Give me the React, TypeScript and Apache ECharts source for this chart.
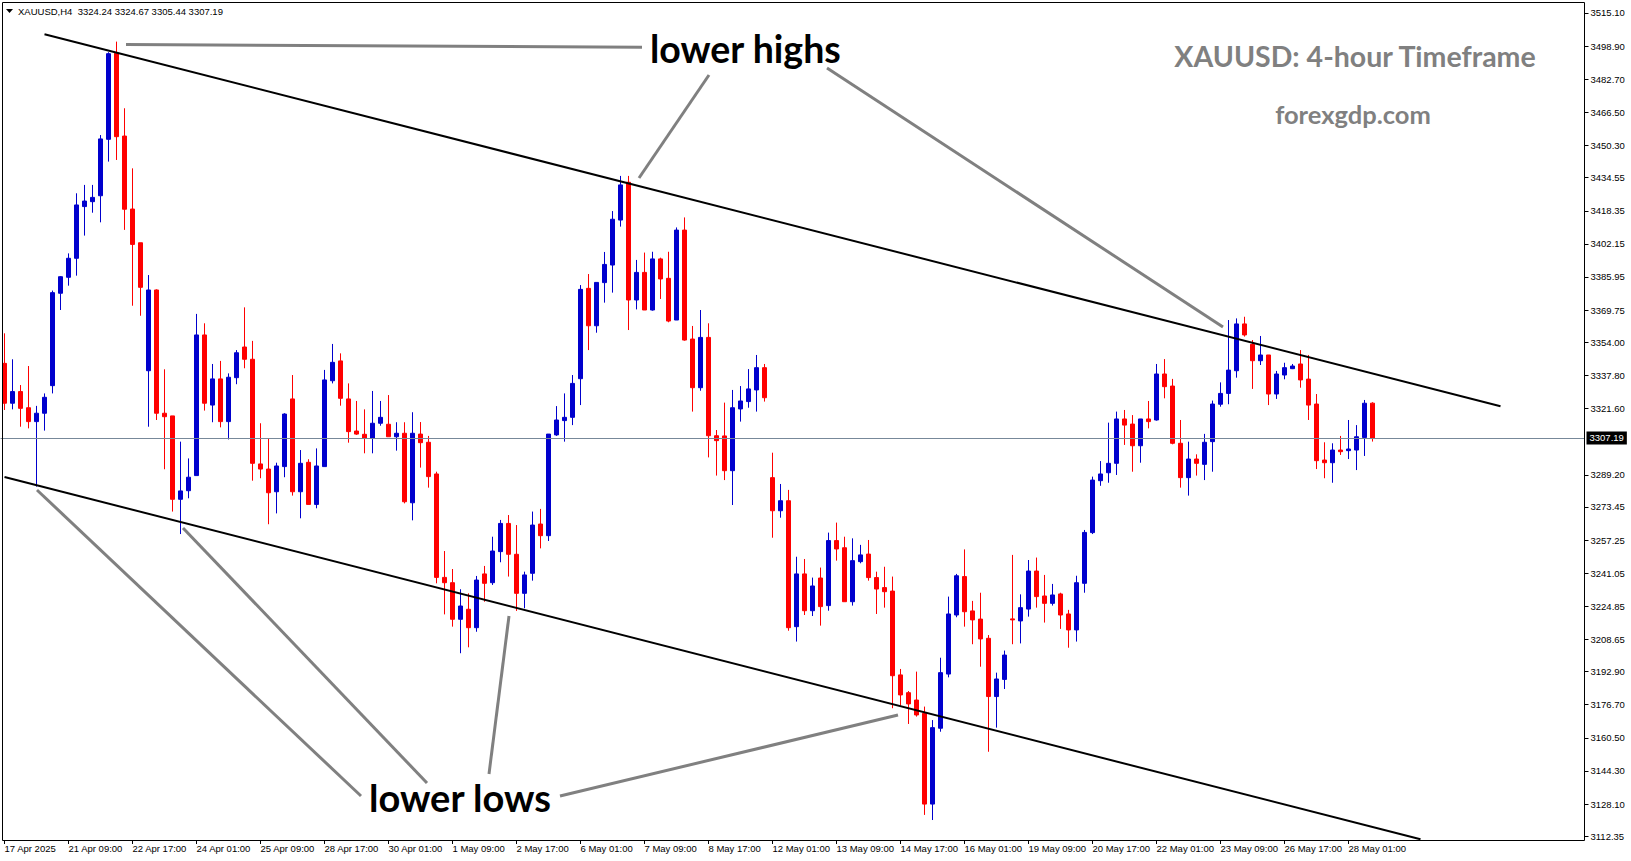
import React, { useEffect, useRef } from "react";
import * as echarts from "echarts";

// ---- calendar (4-hour sessions, broker time) ----
const tradingDays = [
  "17 Apr", "21 Apr", "22 Apr", "23 Apr", "24 Apr", "25 Apr",
  "28 Apr", "29 Apr", "30 Apr", "1 May", "2 May",
  "5 May", "6 May", "7 May", "8 May", "9 May",
  "12 May", "13 May", "14 May", "15 May", "16 May",
  "19 May", "20 May", "21 May", "22 May", "23 May",
  "26 May", "27 May", "28 May",
];
const sessions = ["01:00", "05:00", "09:00", "13:00", "17:00", "21:00"];

// ---- OHLC values ----
const opens = [
  3343.7, 3324.2, 3329.9, 3322.0, 3315.2, 3319.3, 3332.8, 3378.0, 3385.8, 3395.1,
  3420.4, 3422.8, 3425.7, 3453.3, 3495.4, 3454.9, 3419.2, 3402.7, 3340.1, 3379.6,
  3319.3, 3318.0, 3277.2, 3281.4, 3288.8, 3357.6, 3323.3, 3336.1, 3315.2, 3336.7,
  3351.7, 3345.7, 3294.5, 3292.0, 3280.9, 3293.2, 3326.3, 3280.9, 3295.3, 3274.7,
  3293.2, 3335.2, 3344.9, 3326.3, 3310.6, 3309.0, 3307.0, 3314.4, 3313.9, 3307.8,
  3309.5, 3275.5, 3309.1, 3305.1, 3289.6, 3239.0, 3236.4, 3218.5, 3223.4, 3214.4,
  3240.7, 3236.4, 3251.6, 3265.4, 3250.3, 3231.2, 3241.0, 3265.1, 3259.4, 3308.7,
  3315.7, 3317.3, 3336.2, 3380.4, 3362.1, 3383.2, 3391.8, 3413.8, 3432.3, 3374.7,
  3388.2, 3369.8, 3394.8, 3385.3, 3364.9, 3408.9, 3355.6, 3331.8, 3356.4, 3308.3,
  3308.2, 3291.2, 3321.4, 3325.0, 3330.7, 3341.6, 3287.8, 3271.6, 3276.5, 3214.9,
  3240.7, 3222.7, 3238.7, 3225.2, 3257.0, 3253.5, 3227.1, 3246.7, 3250.4, 3238.9,
  3234.0, 3232.3, 3191.3, 3182.6, 3179.0, 3172.5, 3128.1, 3165.2, 3191.7, 3220.6,
  3239.4, 3222.6, 3218.6, 3209.2, 3180.7, 3189.1, 3218.7, 3217.7, 3223.5, 3242.1,
  3229.9, 3226.3, 3230.9, 3221.1, 3213.3, 3236.1, 3260.9, 3286.3, 3290.2, 3294.8,
  3316.5, 3314.0, 3303.4, 3316.5, 3316.0, 3338.5, 3332.6, 3304.6, 3287.8, 3296.9,
  3294.3, 3305.4, 3323.7, 3329.0, 3340.1, 3363.0, 3353.0, 3345.0, 3347.8, 3328.7,
  3338.0, 3341.1, 3343.4, 3336.0, 3323.8, 3296.4, 3295.1, 3301.3, 3301.0, 3301.3,
  3307.4, 3324.24,
];
const highs = [
  3358.4, 3345.7, 3333.1, 3342.4, 3322.9, 3329.0, 3379.3, 3386.4, 3397.5, 3426.9,
  3431.0, 3431.0, 3455.4, 3495.9, 3501.1, 3468.5, 3439.1, 3402.7, 3386.9, 3379.9,
  3340.8, 3318.0, 3305.4, 3297.2, 3367.9, 3363.3, 3343.4, 3344.9, 3338.8, 3350.2,
  3371.1, 3354.7, 3314.4, 3306.7, 3295.1, 3319.3, 3338.0, 3301.3, 3296.8, 3302.1,
  3340.5, 3353.2, 3348.6, 3333.9, 3325.3, 3321.2, 3330.2, 3325.3, 3328.2, 3314.9,
  3314.9, 3319.8, 3315.0, 3308.2, 3290.7, 3251.9, 3243.1, 3233.2, 3231.2, 3239.7,
  3244.6, 3258.9, 3267.1, 3269.5, 3264.6, 3241.8, 3271.2, 3272.5, 3309.1, 3322.8,
  3329.0, 3338.0, 3382.0, 3387.4, 3383.3, 3398.2, 3418.2, 3435.4, 3435.4, 3394.3,
  3397.9, 3398.3, 3395.4, 3398.3, 3410.2, 3415.1, 3362.0, 3369.8, 3363.3, 3311.1,
  3324.5, 3330.7, 3332.6, 3340.9, 3347.8, 3343.4, 3300.0, 3284.7, 3281.8, 3249.1,
  3248.0, 3238.9, 3243.8, 3260.9, 3265.8, 3258.9, 3258.1, 3254.9, 3257.3, 3241.8,
  3244.2, 3239.4, 3194.2, 3183.4, 3192.9, 3175.8, 3169.2, 3199.7, 3229.6, 3240.7,
  3252.7, 3227.5, 3231.5, 3210.8, 3192.4, 3203.2, 3250.0, 3230.7, 3247.5, 3248.7,
  3240.2, 3235.8, 3231.5, 3223.1, 3239.8, 3262.2, 3288.3, 3295.9, 3314.7, 3320.1,
  3320.9, 3318.4, 3316.5, 3325.3, 3343.4, 3345.8, 3336.1, 3316.0, 3305.4, 3299.2,
  3309.2, 3325.5, 3334.4, 3364.9, 3365.7, 3366.5, 3355.1, 3357.1, 3347.8, 3340.0,
  3344.0, 3343.4, 3350.2, 3347.8, 3328.7, 3305.1, 3304.6, 3308.2, 3316.0, 3313.5,
  3325.8, 3324.67,
];
const lows = [
  3320.9, 3321.2, 3312.7, 3311.9, 3283.4, 3310.8, 3329.0, 3369.8, 3381.7, 3386.6,
  3406.2, 3417.4, 3412.7, 3442.4, 3443.2, 3409.0, 3371.9, 3367.0, 3312.7, 3316.0,
  3291.9, 3271.2, 3260.2, 3277.7, 3288.8, 3320.6, 3314.9, 3312.4, 3306.5, 3333.5,
  3341.3, 3286.3, 3287.5, 3265.0, 3270.3, 3288.0, 3279.0, 3267.9, 3274.7, 3272.8,
  3293.2, 3333.9, 3323.0, 3304.9, 3308.7, 3299.7, 3299.7, 3313.2, 3307.8, 3301.0,
  3275.2, 3266.9, 3292.7, 3282.9, 3236.1, 3220.9, 3214.9, 3201.9, 3204.8, 3212.4,
  3227.1, 3235.3, 3246.4, 3239.4, 3222.6, 3223.9, 3237.4, 3253.2, 3256.8, 3308.2,
  3305.4, 3313.5, 3323.3, 3350.2, 3358.7, 3373.4, 3378.3, 3410.6, 3360.0, 3370.1,
  3369.8, 3369.5, 3375.2, 3363.8, 3364.9, 3354.8, 3320.1, 3330.3, 3297.7, 3288.8,
  3286.6, 3274.4, 3315.2, 3322.0, 3320.1, 3325.0, 3258.4, 3268.2, 3212.9, 3207.6,
  3220.6, 3220.1, 3215.4, 3222.7, 3247.2, 3227.1, 3225.2, 3245.9, 3237.4, 3221.1,
  3224.2, 3175.0, 3176.3, 3167.3, 3170.9, 3122.8, 3120.3, 3163.5, 3190.1, 3219.5,
  3214.9, 3206.3, 3195.3, 3153.7, 3165.5, 3184.4, 3206.3, 3206.7, 3219.8, 3224.2,
  3216.9, 3225.2, 3213.8, 3204.6, 3207.6, 3231.5, 3260.2, 3283.8, 3285.3, 3289.1,
  3303.8, 3290.7, 3295.1, 3311.9, 3315.7, 3326.6, 3304.1, 3282.9, 3279.0, 3288.8,
  3286.6, 3290.7, 3322.5, 3323.7, 3336.7, 3356.8, 3331.2, 3342.9, 3323.3, 3326.3,
  3335.9, 3340.9, 3331.8, 3316.0, 3292.0, 3287.5, 3285.3, 3298.9, 3296.9, 3291.5,
  3298.4, 3305.44,
];
const closes = [
  3324.2, 3329.9, 3321.7, 3315.2, 3319.3, 3327.1, 3378.3, 3386.1, 3395.1, 3421.2,
  3423.1, 3424.9, 3453.5, 3495.2, 3454.6, 3419.1, 3401.9, 3380.9, 3379.6, 3319.3,
  3317.6, 3277.2, 3281.3, 3288.0, 3357.6, 3324.2, 3336.1, 3315.2, 3336.9, 3348.9,
  3345.7, 3294.8, 3292.0, 3280.4, 3293.5, 3318.9, 3280.9, 3294.8, 3274.7, 3293.5,
  3335.6, 3344.2, 3326.6, 3310.3, 3309.1, 3307.0, 3314.4, 3317.3, 3307.8, 3309.5,
  3276.0, 3309.5, 3304.9, 3288.3, 3239.0, 3236.4, 3218.5, 3225.0, 3214.4, 3237.7,
  3236.1, 3251.9, 3265.4, 3250.3, 3231.2, 3240.2, 3264.6, 3259.4, 3309.1, 3316.0,
  3317.3, 3333.9, 3379.9, 3362.1, 3383.3, 3392.1, 3414.2, 3431.0, 3374.7, 3388.2,
  3369.8, 3394.8, 3385.0, 3364.4, 3408.9, 3355.1, 3331.8, 3356.4, 3308.3, 3305.9,
  3291.2, 3322.0, 3325.3, 3331.2, 3341.6, 3326.9, 3271.6, 3276.5, 3214.4, 3240.7,
  3222.7, 3234.8, 3224.7, 3257.0, 3252.9, 3227.1, 3247.2, 3250.0, 3238.9, 3233.3,
  3232.0, 3190.9, 3181.5, 3177.1, 3171.7, 3128.1, 3165.5, 3192.4, 3221.1, 3239.8,
  3222.2, 3218.2, 3208.9, 3180.7, 3189.3, 3201.0, 3218.2, 3224.2, 3242.1, 3229.6,
  3226.3, 3230.4, 3220.6, 3213.3, 3236.4, 3261.0, 3286.6, 3289.6, 3294.8, 3316.5,
  3313.5, 3303.4, 3316.5, 3315.2, 3338.5, 3332.3, 3304.6, 3287.8, 3296.9, 3294.8,
  3305.1, 3323.8, 3329.0, 3340.4, 3363.0, 3357.6, 3345.0, 3347.8, 3328.7, 3338.5,
  3341.6, 3342.4, 3335.6, 3323.3, 3296.1, 3295.1, 3301.3, 3300.5, 3301.8, 3307.8,
  3324.2, 3307.19,
];

// ---- axis tick labels ----
const yTicks = [
  3515.1, 3498.9, 3482.7, 3466.5, 3450.3, 3434.55, 3418.35, 3402.15, 3385.95,
  3369.75, 3354.0, 3337.8, 3321.6, 3289.2, 3273.45, 3257.25, 3241.05, 3224.85,
  3208.65, 3192.9, 3176.7, 3160.5, 3144.3, 3128.1, 3112.35,
];
const xTickLabels = [
  "17 Apr 2025", "21 Apr 09:00", "22 Apr 17:00", "24 Apr 01:00", "25 Apr 09:00",
  "28 Apr 17:00", "30 Apr 01:00", "1 May 09:00", "2 May 17:00", "6 May 01:00",
  "7 May 09:00", "8 May 17:00", "12 May 01:00", "13 May 09:00", "14 May 17:00",
  "16 May 01:00", "19 May 09:00", "20 May 17:00", "22 May 01:00", "23 May 09:00",
  "26 May 17:00", "28 May 01:00",
];
const lastPrice = 3307.19;
const headerText = "XAUUSD,H4\u00a0\u00a03324.24 3324.67 3305.44 3307.19";

// trend lines [barIndex, price]
const upperTrend = [[5, 3504.74], [187, 3322.75]];
const lowerTrend = [[0, 3288.13], [177, 3110.86]];

const SLOT_COUNT = 198;
const LABEL_STEP = 8;

function buildCategories(): string[] {
  const cats: string[] = [];
  tradingDays.forEach((d) => sessions.forEach((s) => cats.push(`${d} ${s}`)));
  const used = cats.slice(0, opens.length);
  for (let k = used.length; k < SLOT_COUNT; k++) used.push(`future-${k}`);
  return used;
}

const MT_FONT = "Tahoma, 'Liberation Sans', sans-serif";
const ANN_FONT = "Lato, 'Open Sans', sans-serif";
const GRAY = "#808080";

export default function App() {
  const ref = useRef<HTMLDivElement>(null);

  useEffect(() => {
    if (!ref.current) return;
    const chart = echarts.init(ref.current, null, { renderer: "svg" });
    const categories = buildCategories();
    const candles = opens.map((o, i) => [o, closes[i], lows[i], highs[i]]);
    const tickFn = (index: number) =>
      index % LABEL_STEP === 0 && index / LABEL_STEP < xTickLabels.length;

    const grayLine = (x1: number, y1: number, x2: number, y2: number) => ({
      type: "line",
      silent: true,
      shape: { x1, y1, x2, y2 },
      style: { stroke: GRAY, lineWidth: 3 },
      z: 50,
    });

    const option: any = {
      animation: false,
      backgroundColor: "#ffffff",
      grid: { left: 0.5, right: 46.5, top: 2, bottom: 21, show: false },
      xAxis: {
        type: "category",
        data: categories,
        boundaryGap: true,
        axisLine: { show: false },
        axisTick: {
          show: true,
          alignWithLabel: true,
          interval: tickFn,
          length: 4,
          lineStyle: { color: "#000", width: 1 },
        },
        axisLabel: {
          interval: tickFn,
          formatter: (_v: string, index: number) =>
            index % LABEL_STEP === 0 ? xTickLabels[index / LABEL_STEP] ?? "" : "",
          align: "left",
          margin: 3,
          color: "#000",
          fontSize: 9.5,
          fontFamily: MT_FONT,
        },
        splitLine: { show: false },
      },
      yAxis: {
        type: "value",
        position: "right",
        min: 3110.53,
        max: 3520.48,
        scale: true,
        axisLine: { show: false },
        splitLine: { show: false },
        axisTick: {
          show: true,
          customValues: yTicks,
          length: 4,
          lineStyle: { color: "#000", width: 1 },
        },
        axisLabel: {
          customValues: yTicks,
          formatter: (v: number) => v.toFixed(2),
          margin: 6,
          color: "#000",
          fontSize: 9.5,
          fontFamily: MT_FONT,
        },
      },
      series: [
        {
          type: "candlestick",
          data: candles,
          barWidth: 4,
          clip: false,
          itemStyle: {
            color: "#0000CD",
            color0: "#FF0000",
            borderColor: "#0000CD",
            borderColor0: "#FF0000",
            borderWidth: 1,
          },
          markLine: {
            silent: true,
            symbol: ["none", "none"],
            animation: false,
            data: [
              {
                yAxis: lastPrice,
                lineStyle: { color: "#778899", width: 1, type: "solid" },
                label: {
                  show: true,
                  position: "end",
                  distance: 2,
                  formatter: lastPrice.toFixed(2),
                  color: "#ffffff",
                  backgroundColor: "#000000",
                  padding: [2, 3, 1, 3],
                  fontSize: 9.5,
                  fontFamily: MT_FONT,
                },
              },
              [
                {
                  coord: upperTrend[0],
                  lineStyle: { color: "#000", width: 2, type: "solid" },
                  label: { show: false },
                },
                { coord: upperTrend[1] },
              ],
              [
                {
                  coord: lowerTrend[0],
                  lineStyle: { color: "#000", width: 2, type: "solid" },
                  label: { show: false },
                },
                { coord: lowerTrend[1] },
              ],
            ],
          },
        },
      ],
      graphic: [
        {
          type: "rect",
          silent: true,
          shape: { x: 2.5, y: 2.5, width: 1582, height: 838 },
          style: { fill: "none", stroke: "#000", lineWidth: 1 },
          z: 40,
        },
        {
          type: "polygon",
          silent: true,
          shape: { points: [[6, 9], [13, 9], [9.5, 13]] },
          style: { fill: "#000" },
        },
        {
          type: "text",
          x: 18,
          y: 11,
          silent: true,
          style: {
            text: headerText,
            fill: "#000",
            font: `9.5px ${MT_FONT}`,
            align: "left",
            verticalAlign: "middle",
          },
        },
        grayLine(126, 44.5, 642, 47.3),
        grayLine(709, 75, 639, 178),
        grayLine(827, 68, 1223, 327),
        grayLine(37, 490, 361, 796),
        grayLine(183, 528, 427, 783),
        grayLine(509, 616, 489, 774),
        grayLine(560, 796, 898, 715),
        {
          type: "text",
          x: 650,
          y: 48,
          silent: true,
          z: 60,
          style: {
            text: "lower highs",
            fill: "#000",
            font: `bold 37.5px ${ANN_FONT}`,
            align: "left",
            verticalAlign: "middle",
          },
        },
        {
          type: "text",
          x: 369,
          y: 797,
          silent: true,
          z: 60,
          style: {
            text: "lower lows",
            fill: "#000",
            font: `bold 38px ${ANN_FONT}`,
            align: "left",
            verticalAlign: "middle",
          },
        },
        {
          type: "text",
          x: 1355,
          y: 56,
          silent: true,
          z: 60,
          style: {
            text: "XAUUSD: 4-hour Timeframe",
            fill: GRAY,
            font: `bold 28.5px ${ANN_FONT}`,
            align: "center",
            verticalAlign: "middle",
          },
        },
        {
          type: "text",
          x: 1353,
          y: 114,
          silent: true,
          z: 60,
          style: {
            text: "forexgdp.com",
            fill: GRAY,
            font: `bold 25.5px ${ANN_FONT}`,
            align: "center",
            verticalAlign: "middle",
          },
        },
      ],
    };

    chart.setOption(option);
    return () => chart.dispose();
  }, []);

  return (
    <div
      ref={ref}
      style={{
        position: "fixed",
        left: 0,
        top: 0,
        width: 1631,
        height: 861,
        background: "#ffffff",
      }}
    />
  );
}
